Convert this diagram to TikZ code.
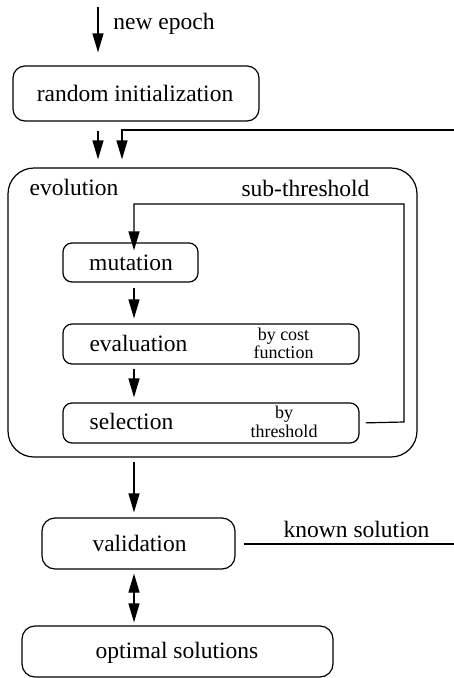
\documentclass[tikz,border=0pt]{standalone}
\usepackage{fontspec}
\setmainfont{Liberation Serif}
\usetikzlibrary{arrows.meta}
\begin{document}
\begin{tikzpicture}[x=1pt,y=-1pt,line width=1.2pt,
  box/.style={draw,rectangle,inner sep=0pt},
  lbl/.style={inner sep=0pt,anchor=base,font=\fontsize{23.5}{28}\selectfont},
  sml/.style={inner sep=0pt,anchor=base,font=\fontsize{18}{18}\selectfont},
  arr/.style={-{Triangle[length=19pt,width=11pt]}},
  darr/.style={{Triangle[length=19pt,width=11pt]}-{Triangle[length=19pt,width=11pt]}}]
\useasboundingbox (0,0) rectangle (454,678);
% boxes
\node[box,minimum width=246pt,minimum height=55pt,rounded corners=12pt] (rinit) at (136,93.5) {};
\node[box,minimum width=409pt,minimum height=289pt,rounded corners=26pt] (evo) at (212.5,312.5) {};
\node[box,minimum width=135pt,minimum height=39pt,rounded corners=9pt] (mut) at (130.5,262.5) {};
\node[box,minimum width=296pt,minimum height=40pt,rounded corners=9pt] (eval) at (211,344) {};
\node[box,minimum width=296pt,minimum height=40pt,rounded corners=9pt] (sel) at (211,423) {};
\node[box,minimum width=193pt,minimum height=51pt,rounded corners=13pt] (val) at (138.5,543.5) {};
\node[box,minimum width=311pt,minimum height=51pt,rounded corners=13pt] (opt) at (177.5,651.5) {};
% texts
\node[lbl] (tepoch) at (164,29) {new epoch};
\node[lbl] (trinit) at (135,101) {random initialization};
\node[lbl] (tevo) at (74,195) {evolution};
\node[lbl] (tsub) at (305.5,196) {sub-threshold};
\node[lbl] (tmut) at (131,270) {mutation};
\node[lbl] (teval) at (138.5,351.5) {evaluation};
\node[sml] (tcost1) at (283.5,340.5) {by cost};
\node[sml] (tcost2) at (283.5,358) {function};
\node[lbl] (tsel) at (131.5,429) {selection};
\node[sml] (tth1) at (284,418) {by};
\node[sml] (tth2) at (284,437) {threshold};
\node[lbl] (tval) at (139.5,551.5) {validation};
\node[lbl] (tknown) at (356.5,537) {known solution};
\node[lbl] (topt) at (177,658) {optimal solutions};
% coordinates
\coordinate (cA) at (98,7);
\coordinate (cB) at (122,130);
\coordinate (cE) at (454,130);
\coordinate (cM) at (134,0);
\coordinate (cR) at (404,422);
\coordinate (cT) at (404,204);
\coordinate (cK) at (454,544);
% connectors
\draw[arr,shorten >=13pt] (cA) -- (cA |- rinit.north);
\draw[arr,shorten <=9pt,shorten >=8pt] (cA |- rinit.south) -- (cA |- evo.north);
\draw[arr,shorten >=8pt] (cE) -- (cB) -- (cB |- evo.north);
\draw[arr,shorten <=6pt] (sel.east) -- (cR) -- (cT) -- (cT -| cM) -- ([yshift=-8pt]cM |- mut.north);
\draw[arr,shorten <=5pt,shorten >=5pt] (cM |- mut.south) -- (cM |- eval.north);
\draw[arr,shorten <=4pt,shorten >=5pt] (cM |- eval.south) -- (cM |- sel.north);
\draw[arr,shorten <=4pt,shorten >=5pt] (cM |- evo.south) -- (cM |- val.north);
\draw[darr,shorten <=4pt,shorten >=3pt] (cM |- val.south) -- (cM |- opt.north);
\draw[shorten <=8pt] (val.east |- cK) -- (cK);
\end{tikzpicture}
\end{document}
